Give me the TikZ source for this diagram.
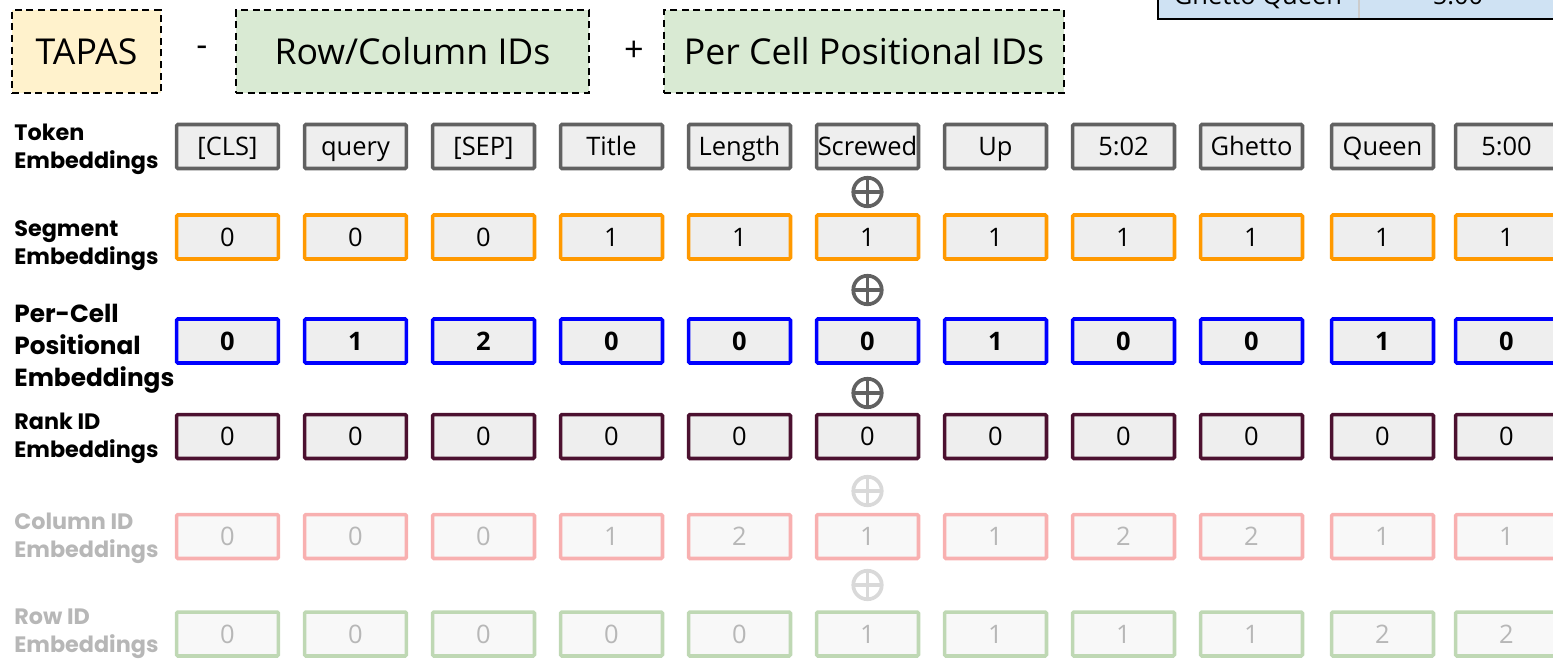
\documentclass[tikz,border=0pt]{standalone}
\usepackage{fontspec}
\setmainfont{Open Sans}
\newfontfamily\labfont{Poppins}
\definecolor{tokc}{HTML}{616161}
\definecolor{segc}{HTML}{FF9900}
\definecolor{cellc}{HTML}{0000FF}
\definecolor{rankc}{HTML}{4C1130}
\definecolor{colc}{HTML}{F8B0B0}
\definecolor{rowc}{HTML}{BFD8B4}
\definecolor{boxfill}{HTML}{EEEEEE}
\definecolor{fadefill}{HTML}{F8F8F8}
\definecolor{fadetext}{HTML}{B7B7B7}
\definecolor{fadeplus}{HTML}{D9D9D9}
\definecolor{tapasc}{HTML}{FFF2CC}
\definecolor{greenc}{HTML}{D9EAD3}
\definecolor{tablec}{HTML}{CFE2F3}
\tikzset{
  cellbox/.style={draw, line width=2pt, fill=boxfill, rounded corners=0.8pt,
    minimum width=2.04cm, minimum height=0.88cm, inner sep=0pt,
    text height=10.4pt, text depth=0pt,
    font=\fontsize{14.5}{16}\selectfont},
  fadebox/.style={cellbox, fill=fadefill, text=fadetext},
  rowlabel/.style={anchor=west, align=left, inner sep=0pt,
    font=\labfont\bfseries\fontsize{12.7}{15.9}\selectfont},
  toplabel/.style={draw, dash pattern=on 4pt off 2.6pt, line width=1.1pt,
    inner sep=0pt, font=\fontsize{20.3}{22}\selectfont},
  plussym/.style={circle, draw, line width=2.1pt, minimum size=0.57cm, inner sep=0pt,
    path picture={\draw[line width=2.1pt] (path picture bounding box.north) -- (path picture bounding box.south)
      (path picture bounding box.west) -- (path picture bounding box.east);}},
  opsym/.style={font=\fontsize{19.5}{22}\selectfont, inner sep=0pt}
}
\begin{document}
\begin{tikzpicture}[x=0.02cm, y=-0.02cm]
\path[use as bounding box] (0,0) rectangle (1553,659);
\clip (0,0) rectangle (1553,659);
% table fragment
\draw[fill=tablec, line width=1pt] (1158,-40) rectangle (1600,19);
\draw[line width=0.8pt, draw=black!20] (1359,-40) -- (1359,18);
\node[anchor=base, inner sep=0pt, font=\fontsize{14.5}{16}\selectfont] (tq) at (1258,5) {Ghetto Queen};
\node[anchor=base, inner sep=0pt, font=\fontsize{14.5}{16}\selectfont] (tt) at (1458,5) {5:00};
% top boxes
\node[toplabel, fill=tapasc, minimum width=2.98cm, minimum height=1.66cm] (tapas) at (86.5,51.5) {TAPAS};
\node[opsym] (minus) at (202,51) {-};
\node[toplabel, fill=greenc, minimum width=7.06cm, minimum height=1.66cm] (rowcol) at (412.5,51.5) {Row/Column IDs};
\node[opsym] (plus) at (634,51) {+};
\node[toplabel, fill=greenc, minimum width=8cm, minimum height=1.66cm] (percell) at (864,51.5) {Per Cell Positional IDs};
% row labels
\node[rowlabel] (ltok) at (14,149) {Token\\Embeddings};
\node[rowlabel] (lseg) at (14,246) {Segment\\Embeddings};
\node[rowlabel, font=\labfont\bfseries\fontsize{14.1}{18.2}\selectfont] (lcell) at (14,349) {Per-Cell\\Positional\\Embeddings};
\node[rowlabel] (lrank) at (14,438) {Rank ID\\Embeddings};
\node[rowlabel, text=fadetext] (lcol) at (14,538) {Column ID\\Embeddings};
\node[rowlabel, text=fadetext] (lrow) at (14,634) {Row ID\\Embeddings};
% cells
\foreach \i/\x/\tk/\sg/\pc/\cl/\rw in {
  0/227.5/{[CLS]}/0/0/0/0, 1/355.5/query/0/1/0/0, 2/483.5/{[SEP]}/0/2/0/0,
  3/611.5/Title/1/0/1/0, 4/739.5/Length/1/0/2/0, 5/867.5/Screwed/1/0/1/1,
  6/995.5/Up/1/1/1/1, 7/1123.5/5:02/1/0/2/1, 8/1251.5/Ghetto/1/0/2/1,
  9/1382.5/Queen/1/1/1/2, 10/1506.5/5:00/1/0/1/2} {
  \node[cellbox, draw=tokc] (tok\i) at (\x,146.5) {\tk};
  \node[cellbox, draw=segc] (seg\i) at (\x,237) {\sg};
  \node[cellbox, draw=cellc, font=\bfseries\fontsize{14.5}{16}\selectfont] (cell\i) at (\x,341) {\pc};
  \node[cellbox, draw=rankc] (rank\i) at (\x,436.5) {0};
  \node[fadebox, draw=colc] (col\i) at (\x,536.5) {\cl};
  \node[fadebox, draw=rowc] (row\i) at (\x,634) {\rw};
}
% plus symbols
\node[plussym, draw=tokc] (p1) at (867.5,192) {};
\node[plussym, draw=tokc] (p2) at (867.5,290) {};
\node[plussym, draw=tokc] (p3) at (867.5,393) {};
\node[plussym, draw=fadeplus] (p4) at (867.5,491) {};
\node[plussym, draw=fadeplus] (p5) at (867.5,585) {};
\end{tikzpicture}
\end{document}
